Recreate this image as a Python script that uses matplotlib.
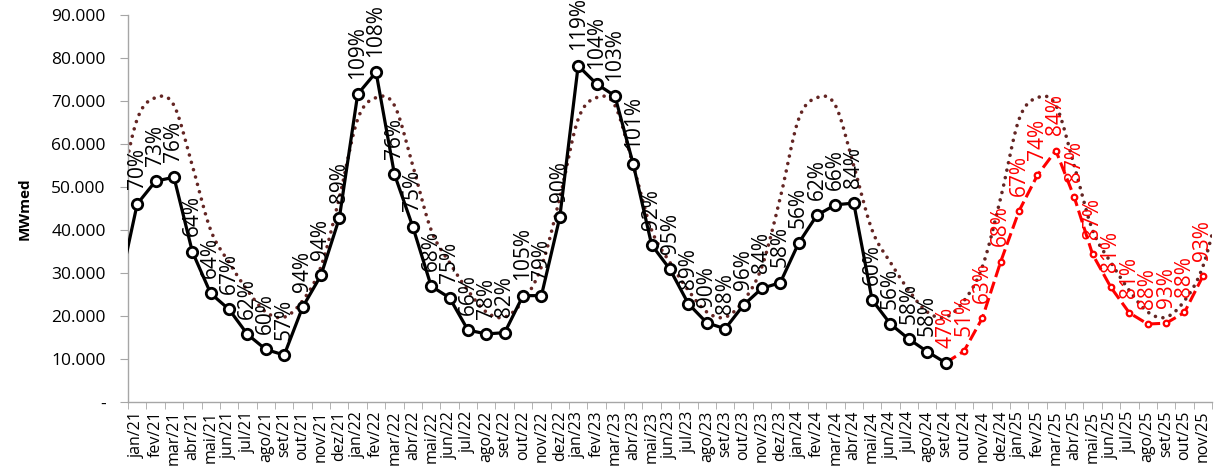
import numpy as np
import matplotlib
matplotlib.use('Agg')
import matplotlib.pyplot as plt
import matplotlib.ticker as mtick

plt.rcParams['font.family'] = ['Open Sans', 'DejaVu Sans']
MAROON = '#632523'
RED = '#FF0000'

# ---------- data (MWmed) ----------
month_names = ['jan', 'fev', 'mar', 'abr', 'mai', 'jun', 'jul', 'ago', 'set', 'out', 'nov', 'dez']
years = ['21', '22', '23', '24', '25']
labels = [f"{m}/{y}" for y in years for m in month_names][:59]   # jan/21 .. nov/25

# verified energy, dez/20 (just left of the axis) then jan/21 .. set/24
prev_value = 26300
verified = [46100, 51400, 52300, 35000, 25300, 21600, 15800, 12300, 11000, 22100, 29500, 42800,
            71600, 76700, 53000, 40800, 27000, 24300, 16800, 15900, 16200, 24800, 24800, 43000,
            78200, 74000, 71200, 55300, 36600, 30900, 22900, 18500, 17100, 22600, 26500, 27800,
            37000, 43500, 45900, 46300, 23800, 18200, 14700, 11800, 9200]
verified_pct = [70, 73, 76, 64, 64, 67, 62, 60, 57, 94, 94, 89,
                109, 108, 76, 75, 68, 75, 66, 78, 82, 105, 79, 90,
                119, 104, 103, 101, 92, 95, 89, 90, 88, 96, 84, 58,
                56, 62, 66, 84, 60, 56, 58, 58]

# forecast, set/24 .. nov/25
forecast = [9200, 11900, 19600, 32700, 44500, 52800, 58500, 47700, 34400, 26700, 20800, 18200,
            18400, 20900, 29300]
forecast_pct = [47, 51, 63, 68, 67, 74, 84, 87, 87, 81, 81, 88, 93, 88, 93]

# long-term average (MLT) by month, jan .. dez
mlt = [65800, 70800, 69000, 55000, 40000, 32500, 26000, 21000, 19800, 23600, 31500, 47500]


def smooth(x, y, n=24):
    # Catmull-Rom curve through the points, like a spreadsheet "smoothed line"
    x = np.asarray(x, float)
    y = np.asarray(y, float)
    xp = np.concatenate([[2 * x[0] - x[1]], x, [2 * x[-1] - x[-2]]])
    yp = np.concatenate([[2 * y[0] - y[1]], y, [2 * y[-1] - y[-2]]])
    t = np.linspace(0, 1, n, endpoint=False)[:, None]
    out = []
    for p in (xp, yp):
        p0, p1, p2, p3 = p[:-3], p[1:-2], p[2:-1], p[3:]
        seg = 0.5 * (2 * p1 + (-p0 + p2) * t + (2 * p0 - 5 * p1 + 4 * p2 - p3) * t ** 2
                     + (-p0 + 3 * p1 - 3 * p2 + p3) * t ** 3)
        out.append(np.append(seg.T.ravel(), p[-2]))
    return out


n = len(labels)
x_ver = np.arange(-1, len(verified))
y_ver = [prev_value] + verified
x_fc = np.arange(len(verified) - 1, len(verified) - 1 + len(forecast))
mlt_series = [mlt[-1]] + mlt * 5          # dez/20 .. dez/25
x_mlt = np.arange(-1, len(mlt_series) - 1)

fig = plt.figure(figsize=(12.24, 4.68), dpi=100)
ax = fig.add_axes([0.1046, 0.1402, 0.8856, 0.8278])

sx, sy = smooth(x_mlt, mlt_series)
ax.plot(sx, sy, color=MAROON, linewidth=2.6, linestyle=(0, (0.01, 2.1)),
        dash_capstyle='round', zorder=2)
ax.plot(x_fc, forecast, color=RED, linewidth=2.2, linestyle=(0, (4, 1.6)),
        marker='o', markersize=4, markerfacecolor='white', markeredgecolor=RED,
        markeredgewidth=1.6, zorder=3)
ax.plot(x_ver, y_ver, color='black', linewidth=2.3, marker='o', markersize=7.5,
        markerfacecolor='white', markeredgecolor='black', markeredgewidth=2.0, zorder=4)

for i, p in enumerate(verified_pct):
    ax.annotate(f"{p}%", (i, verified[i]), xytext=(0, 11), textcoords='offset points',
                rotation=90, ha='center', va='bottom', fontsize=15, color='black', zorder=6)
for i, p in enumerate(forecast_pct):
    ax.annotate(f"{p}%", (x_fc[i], forecast[i]), xytext=(0, 11), textcoords='offset points',
                rotation=90, ha='center', va='bottom', fontsize=15, color=RED, zorder=6)

ax.set_xlim(-0.5, n - 0.5)
ax.set_ylim(0, 90000)
ax.set_xticks(np.arange(n))
ax.set_xticklabels(labels, rotation=90, fontsize=11.5)
ax.set_xticks(np.arange(n + 1) - 0.5, minor=True)
ax.tick_params(axis='x', which='major', length=0, pad=6)
ax.tick_params(axis='x', which='minor', length=5, color='#A6A6A6', direction='out')
ax.set_yticks(np.arange(0, 90001, 10000))
ax.yaxis.set_major_formatter(mtick.FuncFormatter(
    lambda v, pos: '-' if v == 0 else f"{v:,.0f}".replace(',', '.')))
ax.tick_params(axis='y', length=6, color='#A6A6A6', labelsize=12.5, pad=10)
ax.set_ylabel('MWmed', fontsize=11, fontweight='bold', labelpad=14)

for s in ('top', 'right'):
    ax.spines[s].set_visible(False)
for s in ('left', 'bottom'):
    ax.spines[s].set_color('#A6A6A6')
    ax.spines[s].set_linewidth(1.0)

fig.savefig('out.png', dpi=100)
